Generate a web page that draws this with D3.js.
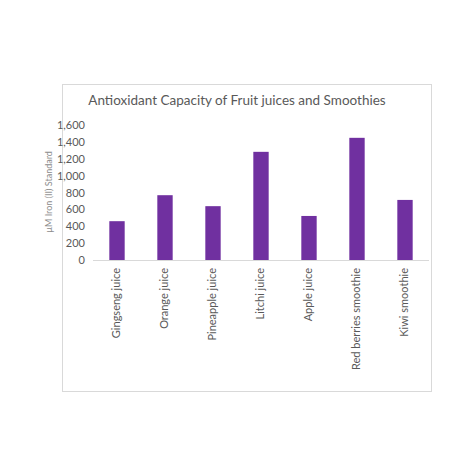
<!DOCTYPE html><html><head><script src="https://cdn.jsdelivr.net/npm/d3@7"></script>
<style>body{margin:0;background:#fff}</style></head><body><svg width="474" height="474"></svg><script>
const categories=["Gingseng juice","Orange juice","Pineapple juice","Litchi juice","Apple juice","Red berries smoothie","Kiwi smoothie"];
const values=[460,768,638,1282,522,1448,712];
const yTicks=[0,200,400,600,800,1000,1200,1400,1600];
const svg=d3.select("svg");
const font="Century Gothic, Lato, 'DejaVu Sans', sans-serif";
svg.append("rect").attr("x",62.5).attr("y",84.5).attr("width",369).attr("height",307).attr("fill","#fff").attr("stroke","#d9d9d9");
svg.append("text").attr("x",237).attr("y",105).attr("text-anchor","middle").attr("font-family",font).attr("font-size",13.5).attr("fill","#595959").text("Antioxidant Capacity of Fruit juices and Smoothies");
const x=d3.scaleBand().domain(categories).range([93,429]).paddingInner(0.68).paddingOuter(0.34);
const y=d3.scaleLinear().domain([0,1600]).range([260,125]);
svg.append("g").selectAll("rect").data(values).join("rect").attr("x",(d,i)=>x(categories[i])).attr("width",x.bandwidth()).attr("y",d=>y(d)).attr("height",d=>y(0)-y(d)).attr("fill","#7030a0");
const ya=svg.append("g").attr("transform","translate(93,0)").call(d3.axisLeft(y).tickValues(yTicks).tickSize(0).tickPadding(8));
ya.select(".domain").remove();
ya.selectAll("text").attr("font-family",font).attr("font-size",11).attr("fill","#595959");
svg.append("line").attr("x1",93).attr("x2",429).attr("y1",260.5).attr("y2",260.5).attr("stroke","#d9d9d9");
const xa=svg.append("g").attr("transform","translate(0,260)").call(d3.axisBottom(x).tickSize(0));
xa.select(".domain").remove();
xa.selectAll("text").attr("font-family",font).attr("font-size",11).attr("fill","#595959").attr("transform","rotate(-90)").attr("text-anchor","end").attr("dx","-8").attr("dy","0.3em").attr("y",0).attr("x",0);
svg.append("text").attr("transform","translate(52,192) rotate(-90)").attr("text-anchor","middle").attr("font-family",font).attr("font-size",9).attr("fill","#8c8c8c").text("µM Iron (II) Standard");
</script></body></html>
